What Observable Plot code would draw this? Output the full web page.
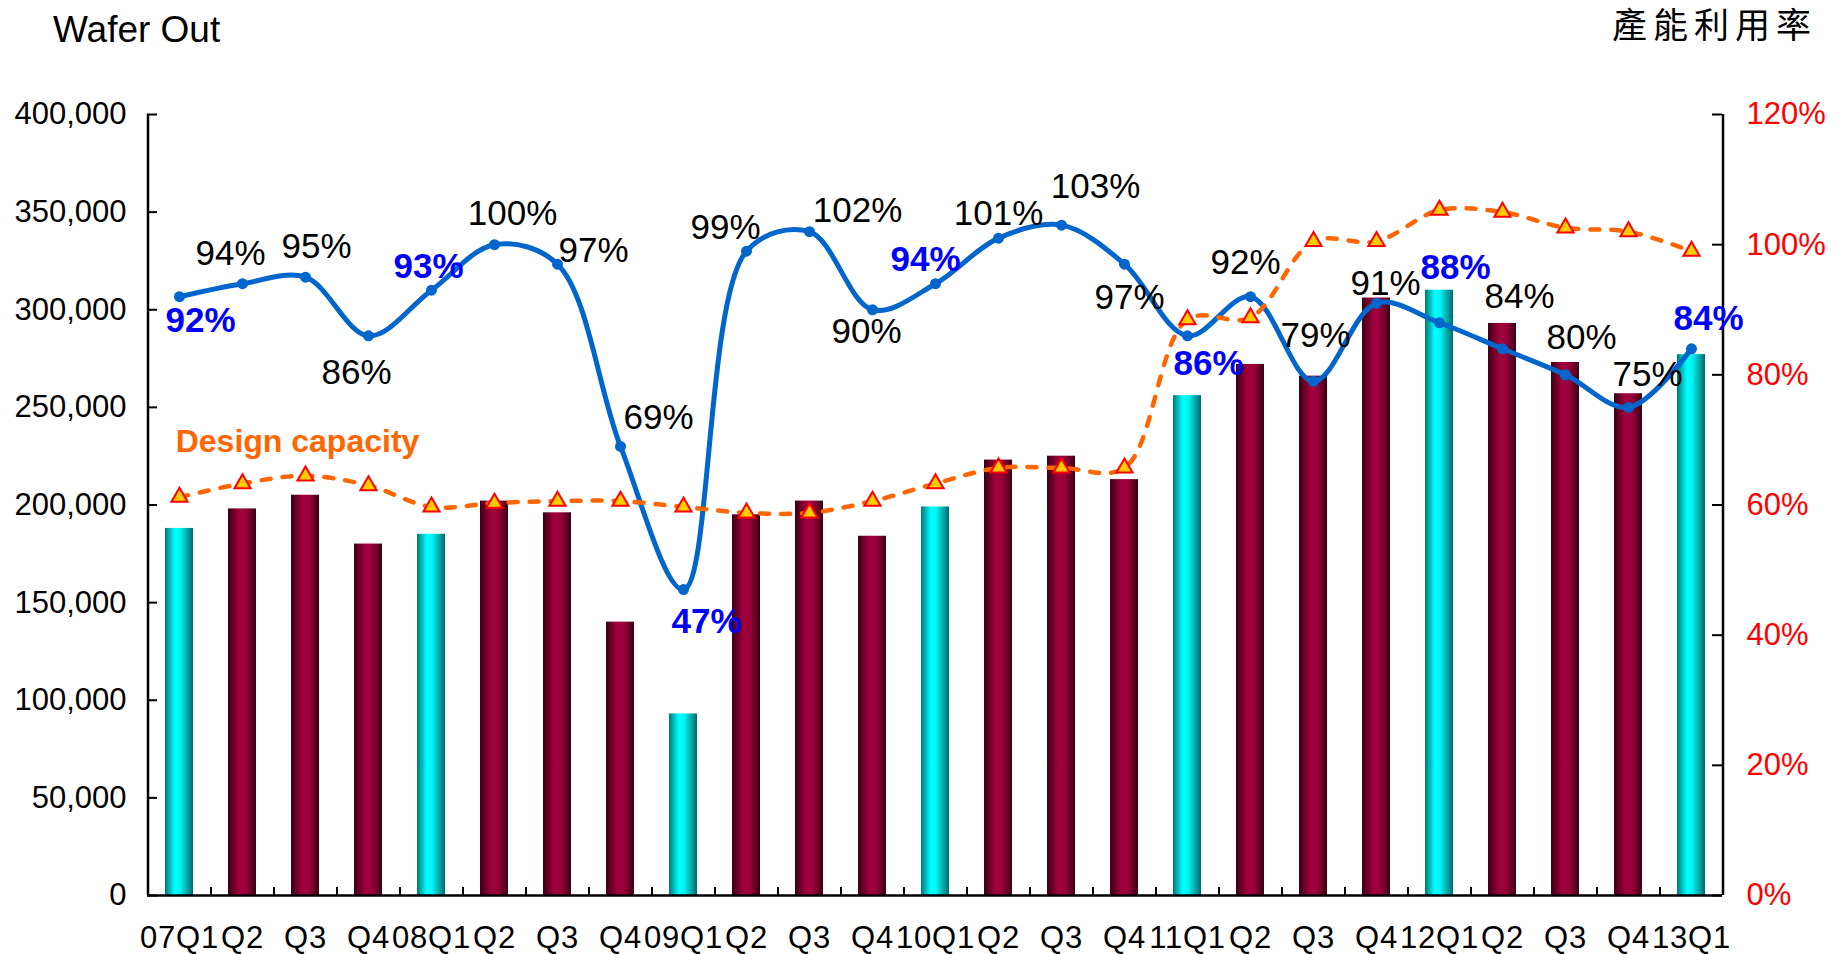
<!DOCTYPE html>
<html>
<head>
<meta charset="utf-8">
<script src="https://cdn.jsdelivr.net/npm/d3@7"></script>
<script src="https://cdn.jsdelivr.net/npm/@observablehq/plot@0.6"></script>
<style>
  body { margin: 0; background: #fff; }
  #wrap { position: relative; width: 1841px; }
  #header { position: relative; height: 60px; }
  #t1 { position: absolute; left: 53px; top: 12px; font-family: "Liberation Sans", Arial, sans-serif; font-size: 37px; line-height: 36px; color: #000; white-space: nowrap; }
  #t2 { position: absolute; left: 1612px; top: 5px; font-family: "Noto Sans CJK TC", sans-serif; font-size: 35px; line-height: 36px; letter-spacing: 6px; color: #000; white-space: nowrap; }
</style>
</head>
<body>
<div id="wrap">
  <div id="header"><div id="t1">Wafer Out</div><div id="t2">產能利用率</div></div>
  <div id="chart"></div>
</div>
<script>
// ---- data ----
const quarters = ["07Q1","07Q2","07Q3","07Q4","08Q1","08Q2","08Q3","08Q4","09Q1","09Q2","09Q3","09Q4",
                  "10Q1","10Q2","10Q3","10Q4","11Q1","11Q2","11Q3","11Q4","12Q1","12Q2","12Q3","12Q4","13Q1"];
const tickLabels = ["07Q1","Q2","Q3","Q4","08Q1","Q2","Q3","Q4","09Q1","Q2","Q3","Q4",
                    "10Q1","Q2","Q3","Q4","11Q1","Q2","Q3","Q4","12Q1","Q2","Q3","Q4","13Q1"];
const waferOut = [188000,198000,205000,180000,185000,202000,196000,140000,93000,195000,202000,184000,
                  199000,223000,225000,213000,256000,272000,266000,306000,310000,293000,273000,257000,277000];
const designCapacity = [204000,211000,215000,210000,199000,201000,202000,202000,199000,196000,196000,202000,
                        211000,219000,219000,219000,295000,296000,335000,335000,351000,350000,342000,340000,330000];
const utilization = [92,94,95,86,93,100,97,69,47,99,102,90,94,101,103,97,86,92,79,91,88,84,80,75,84];
const leftTicks = [0,50000,100000,150000,200000,250000,300000,350000,400000];
const rightTicks = [0,20,40,60,80,100,120];

// ---- layout (not data) ----
const W = 1841, H = 894;
const mL = 147, mR = 119, mT = 54, mB = 59;
const plotW = W - mL - mR, plotH = H - mT - mB;
const step = plotW / quarters.length;
const leftMax = 400000, rightMax = 120;
const unit = leftMax / rightMax; // left-axis units per percentage point
// label offsets [dx, dy] relative to each utilization point
const labelOffsets = [[21,24],[-12,-30],[11,-30],[-12,37],[-3,-23],[18,-31],[36,-13],[38,-29],[23,32],[-21,-23],
                      [48,-21],[-6,22],[-10,-24],[0,-24],[34,-38],[5,34],[21,28],[-5,-34],[2,-46],[9,-19],
                      [16,-55],[17,-52],[16,-37],[19,-33],[17,-30]];

const rows = quarters.map((q, i) => ({
  q, wafer: waferOut[i], cap: designCapacity[i], util: utilization[i], q1: q.endsWith("Q1")
}));

const labelMarks = rows.map((d, i) => Plot.text([d], {
  x: "q", y: r => r.util * unit, text: r => r.util + "%",
  dx: labelOffsets[i][0], dy: labelOffsets[i][1],
  fontSize: 35,
  fill: d.q1 ? "#0000FF" : "#000000",
  fontWeight: d.q1 ? "bold" : "normal",
  textAnchor: "middle", lineAnchor: "middle"
}));

const chart = Plot.plot({
  width: W, height: H,
  marginLeft: mL, marginRight: mR, marginTop: mT, marginBottom: mB,
  style: { fontFamily: "'Liberation Sans', Arial, sans-serif", background: "#fff", overflow: "visible" },
  x: { type: "band", domain: quarters, paddingInner: 0.556, paddingOuter: 0.278 },
  y: { domain: [0, leftMax] },
  marks: [
    Plot.barY(rows.filter(d => !d.q1), { x: "q", y: "wafer", fill: "url(#gMaroon)" }),
    Plot.barY(rows.filter(d => d.q1), { x: "q", y: "wafer", fill: "url(#gCyan)" }),
    Plot.line(rows, { x: "q", y: d => d.util * unit, stroke: "#0066CC", strokeWidth: 5, curve: "catmull-rom" }),
    Plot.dot(rows, { x: "q", y: d => d.util * unit, r: 5.5, fill: "#0066CC" }),
    Plot.line(rows, { x: "q", y: "cap", stroke: "#FF6600", strokeWidth: 4.5, strokeDasharray: "9,12", curve: "catmull-rom" }),
    Plot.dot(rows, { x: "q", y: "cap", symbol: "triangle", r: 6, fill: "#FFCC00", stroke: "#FF0000", strokeWidth: 2 }),
    // axis lines
    Plot.ruleY([0], { stroke: "#000", strokeWidth: 2.5 }),
    Plot.ruleX([quarters[0]], { dx: -step / 2, stroke: "#000", strokeWidth: 2.5 }),
    Plot.ruleX([quarters[quarters.length - 1]], { dx: step / 2, stroke: "#000", strokeWidth: 2.5 }),
    // inward ticks
    Plot.ruleY(leftTicks, { insetRight: plotW - 10, stroke: "#000", strokeWidth: 2 }),
    Plot.ruleY(rightTicks.map(p => p * unit), { insetLeft: plotW - 10, stroke: "#000", strokeWidth: 2 }),
    Plot.ruleX(quarters.slice(1), { dx: -step / 2, insetTop: plotH - 8, stroke: "#000", strokeWidth: 2 }),
    // axes
    Plot.axisY({ anchor: "left", ticks: leftTicks, tickFormat: d3.format(","), tickSize: 0, tickPadding: 21, fontSize: 31, label: null, color: "#000" }),
    Plot.axisY({ anchor: "right", ticks: rightTicks.map(p => p * unit), tickFormat: v => Math.round(v / unit) + "%", tickSize: 0, tickPadding: 24, fontSize: 31, label: null, color: "#FF0000" }),
    Plot.axisX({ tickSize: 0, tickPadding: 30, fontSize: 31, label: null, tickFormat: d => tickLabels[quarters.indexOf(d)], color: "#000" }),
    // annotation
    Plot.text(["Design capacity"], { frameAnchor: "top-left", dx: 150, dy: 327, text: d => d, fontSize: 32, fontWeight: "bold", fill: "#FF6600", textAnchor: "middle", lineAnchor: "middle" }),
    ...labelMarks
  ]
});

const svg = d3.select(chart);
svg.selectAll('g[aria-label="x-axis tick label"] text').style("letter-spacing", "0.8px");
const defs = svg.insert("defs", ":first-child");
const gm = defs.append("linearGradient").attr("id", "gMaroon").attr("x1", "0").attr("x2", "1").attr("y1", "0").attr("y2", "0");
[["0%", "#3a0014"], ["40%", "#a0003c"], ["65%", "#98003a"], ["100%", "#3a0012"]].forEach(([o, c]) => gm.append("stop").attr("offset", o).attr("stop-color", c));
const gc = defs.append("linearGradient").attr("id", "gCyan").attr("x1", "0").attr("x2", "1").attr("y1", "0").attr("y2", "0");
[["0%", "#007878"], ["35%", "#00ffff"], ["55%", "#00f2f2"], ["100%", "#006a6a"]].forEach(([o, c]) => gc.append("stop").attr("offset", o).attr("stop-color", c));

document.getElementById("chart").appendChild(chart);
</script>
</body>
</html>
